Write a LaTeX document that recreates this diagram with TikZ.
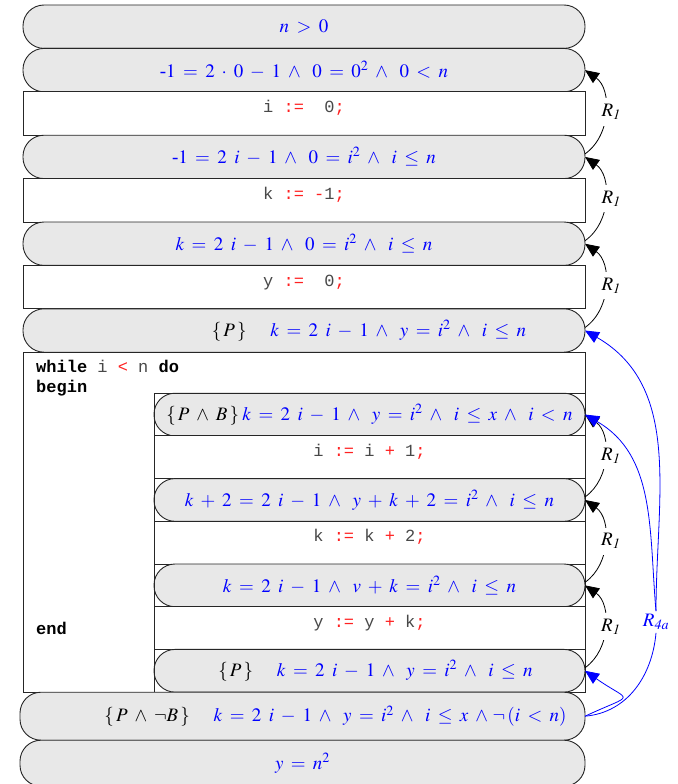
\documentclass[tikz,border=0pt]{standalone}
\usepackage{mathptmx}
\usepackage[no-math]{fontspec}
\setmainfont{Liberation Serif}
\setmonofont{Liberation Mono}
\usetikzlibrary{arrows.meta,positioning,fit}
\definecolor{asgray}{HTML}{E8E8E8}
\definecolor{codegray}{HTML}{484848}
\definecolor{opred}{HTML}{FF2020}
\newcommand{\op}[1]{\textcolor{opred}{#1}}
\newcommand{\kw}[1]{\textcolor{black}{\bfseries #1}}
\newcommand{\pre}[1]{\textcolor{black}{$\{\,#1\,\}$}}
\medmuskip=6.5mu
\thickmuskip=7mu
\tikzset{
  assertbox/.style={rectangle,rounded corners=21pt,draw=black!85,fill=asgray,
    line width=0.9pt,minimum width=562pt,minimum height=43.4pt,inner sep=0pt,
    outer sep=0pt,text=blue,font=\fontsize{19}{22}\selectfont},
  innerassert/.style={assertbox,minimum width=431pt,minimum height=42.7pt},
  stmtbox/.style={rectangle,draw=black!85,fill=white,line width=0.9pt,
    minimum width=562pt,minimum height=43.4pt,inner sep=0pt,outer sep=0pt,
    text=codegray,text height=12pt,text depth=14pt,
    font=\ttfamily\fontsize{17}{20}\selectfont},
  innerstmt/.style={stmtbox,minimum width=431pt,minimum height=42.7pt},
  loopbox/.style={rectangle,draw=black!85,fill=white,line width=0.9pt,
    minimum width=562pt,minimum height=340pt,inner sep=0pt,outer sep=0pt},
  kwtext/.style={inner sep=0pt,align=left,text=codegray,
    font=\ttfamily\fontsize{17}{20}\selectfont},
  rlink/.style={-{Triangle[length=14pt,width=12pt]},line width=0.8pt,draw=black},
  rlabel/.style={fill=white,inner xsep=3pt,inner ysep=6pt,xshift=6pt,text=black,
    font=\fontsize{19}{22}\selectfont},
  bluelink/.style={line width=0.8pt,draw=blue},
  bluearrow/.style={-{Triangle[length=14pt,width=12pt]},line width=0.8pt,draw=blue},
}

\begin{document}
\begin{tikzpicture}[x=1pt,y=1pt,node distance=0pt]
  \useasboundingbox (0,0) rectangle (677,-784);
  \node[assertbox] (A0) at (304,-26.7) {$n > 0$};
  \node[assertbox, below=of A0] (A1) {$\mbox{-}1 = 2\cdot 0 - 1 \wedge\ 0 = 0^2 \wedge\ 0 < n$};
  \node[stmtbox, below=of A1] (B1) {i \op{:=}\ \ 0\op{;}};
  \node[assertbox, below=of B1] (A2) {$\mbox{-}1 = 2\;i - 1 \wedge\ 0 = i^2 \wedge\ i \leq n$};
  \node[stmtbox, below=of A2] (B2) {k \op{:=} \op{-}1\op{;}};
  \node[assertbox, below=of B2] (A3) {$k = 2\;i - 1 \wedge\ 0 = i^2 \wedge\ i \leq n$};
  \node[stmtbox, below=of A3] (B3) {y \op{:=}\ \ 0\op{;}};
  \node[assertbox, below=of B3] (A4) {\hspace*{130pt}\pre{P}\quad\ $k = 2\;i - 1 \wedge\ y = i^2 \wedge\ i \leq n$};
  % while loop
  \node[loopbox, below=of A4] (loop) {};
  \node[kwtext, below right=8pt and 13pt of loop.north west] (head)
    {\kw{while} i \op{<} n \kw{do}\\\kw{begin}};
  \node[innerassert, below left=41pt and 0pt of loop.north east] (A5)
    {\pre{P \wedge B}\,$k = 2\;i - 1 \wedge\ y = i^2 \wedge\ i \leq x \wedge\ i < n$};
  \node[innerstmt, below=of A5] (B5) {i \op{:=} i \op{+} 1\op{;}};
  \node[innerassert, below=of B5] (A6) {$k + 2 = 2\;i - 1 \wedge\ y + k + 2 = i^2 \wedge\ i \leq n$};
  \node[innerstmt, below=of A6] (B6) {k \op{:=} k \op{+} 2\op{;}};
  \node[innerassert, below=of B6] (A7) {$k = 2\;i - 1 \wedge\ v + k = i^2 \wedge\ i \leq n$};
  \node[innerstmt, below=of A7] (B7) {y \op{:=} y \op{+} k\op{;}};
  \node[innerassert, below=of B7] (A8) {\hspace*{12pt}\pre{P}\quad\ $k = 2\;i - 1 \wedge\ y = i^2 \wedge\ i \leq n$};
  \node[fit=(A5)(A8), draw=black!85, line width=0.9pt, inner sep=0pt] (body) {};
  \node[kwtext, anchor=west, xshift=13pt] (tail) at (loop.west |- B7) {\kw{end}};
  % after the loop
  \node[assertbox, minimum width=565pt, minimum height=48pt,
    below left=0pt and 0pt of loop.south east] (A9)
    {\hspace*{66pt}\pre{P \wedge \neg B}\quad\ $k = 2\;i - 1 \wedge\ y = i^2 \wedge\ i \leq x \wedge\!\neg\,(i < n)$};
  \node[assertbox, minimum width=565pt, minimum height=46pt, below=of A9] (A10) {$y = n^2$};
  % rule R1
  \draw[rlink] ([yshift=3pt]A2.east) to[bend right=55] node[rlabel]{$R_{\mathit{1}}$} (A1.east);
  \draw[rlink] ([yshift=3pt]A3.east) to[bend right=55] node[rlabel]{$R_{\mathit{1}}$} (A2.east);
  \draw[rlink] ([yshift=3pt]A4.east) to[bend right=55] node[rlabel]{$R_{\mathit{1}}$} (A3.east);
  \draw[rlink] ([yshift=3pt]A6.east) to[bend right=55] node[rlabel]{$R_{\mathit{1}}$} (A5.east);
  \draw[rlink] ([yshift=3pt]A7.east) to[bend right=55] node[rlabel]{$R_{\mathit{1}}$} (A6.east);
  \draw[rlink] ([yshift=3pt]A8.east) to[bend right=55] node[rlabel]{$R_{\mathit{1}}$} (A7.east);
  % rule R4a
  \node[text=blue, inner sep=3pt, font=\fontsize{19}{22}\selectfont] (r4a) at (656,-622) {$R_{\mathit{4a}}$};
  \draw[bluelink] (A9.east) to[out=5,in=-95] (r4a.south);
  \draw[bluearrow] (r4a.north) to[out=90,in=-30] (A4.east);
  \draw[bluearrow] (r4a.north) to[out=95,in=-30] (A5.east);
  \draw[bluearrow] (A9.east) to[out=25,in=-35,looseness=3.2] (A8.east);
\end{tikzpicture}
\end{document}
